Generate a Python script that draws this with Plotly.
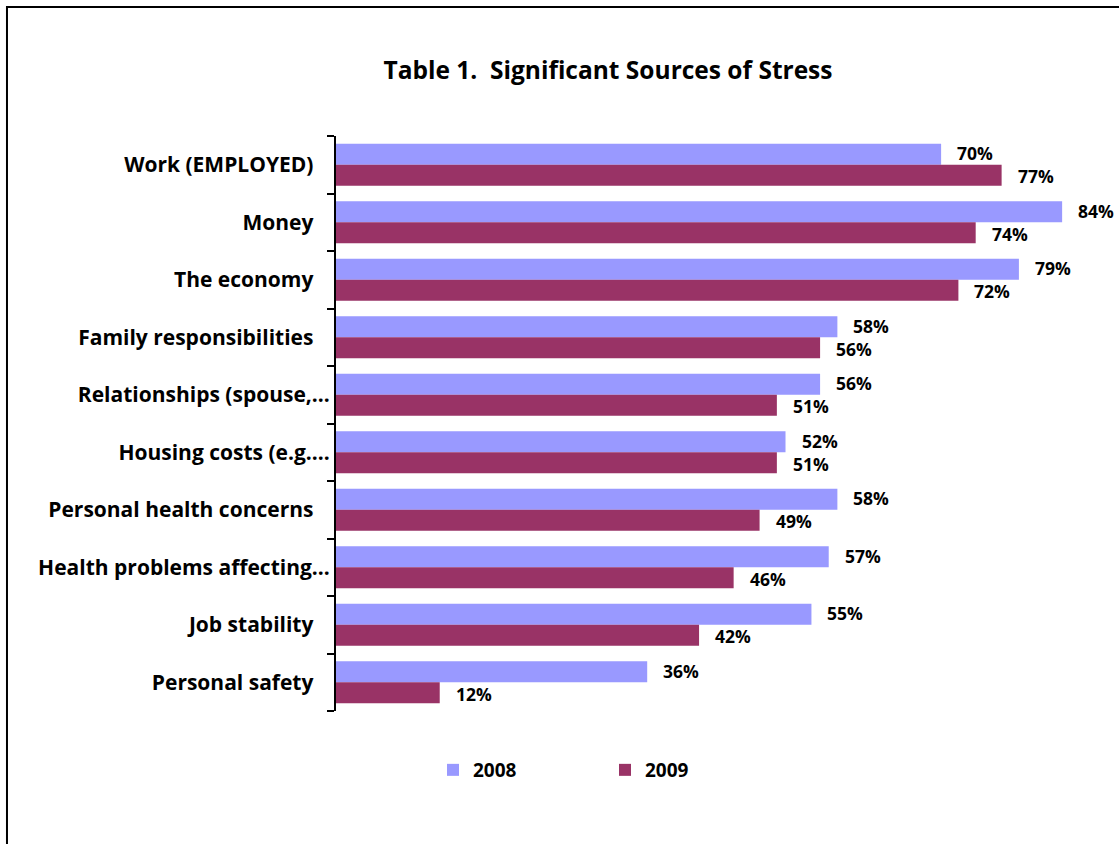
import plotly.graph_objects as go

# Survey data: share of respondents naming each item a significant source of stress
categories = [
    "Work (EMPLOYED)",
    "Money",
    "The economy",
    "Family responsibilities",
    "Relationships (spouse,...",
    "Housing costs (e.g....",
    "Personal health concerns",
    "Health problems affecting...",
    "Job stability",
    "Personal safety",
]
shortened = [False, False, False, False, True, True, False, True, False, False]
pct_2008 = [70, 84, 79, 58, 56, 52, 58, 57, 55, 36]
pct_2009 = [77, 74, 72, 56, 51, 51, 49, 46, 42, 12]
series = [("2008", pct_2008, "#9999FF"), ("2009", pct_2009, "#993366")]

FONT = "Open Sans"
positions = list(range(len(categories)))
tick_text = [c if s else c + "\u00a0" * 3 for c, s in zip(categories, shortened)]

fig = go.Figure()
for name, vals, color in series:
    fig.add_trace(go.Bar(
        name=name, y=positions, x=vals, orientation="h",
        marker=dict(color=color, line=dict(width=0)),
    ))

# value labels beside each bar
half = (1 - 0.27) / 4
for k, (name, vals, color) in enumerate(series):
    off = -half if k == 0 else half
    for p, v in zip(positions, vals):
        fig.add_annotation(
            x=v, y=p + off, xref="x", yref="y", text=f"{v}%",
            showarrow=False, xanchor="left", yanchor="middle", xshift=15,
            yshift=1 if k == 0 else -1, borderpad=0,
            font=dict(family=FONT, size=17.5, color="black", weight="bold"),
        )

# outer frame
fig.add_shape(type="rect", xref="paper", yref="paper",
              x0=-0.4229, x1=1.2, y0=-0.4, y1=1.2243,
              line=dict(color="black", width=2), fillcolor="rgba(0,0,0,0)")

fig.update_layout(
    width=1119, height=844,
    paper_bgcolor="white", plot_bgcolor="white",
    margin=dict(l=336, r=5, t=136, b=133),
    barmode="group", bargap=0.27, bargroupgap=0,
    showlegend=True,
    title=dict(text="Table 1.\u00a0\u00a0Significant Sources of Stress",
               x=608 / 1119, xanchor="center", y=1 - 70 / 844, yanchor="middle",
               font=dict(family=FONT, size=24.5, color="black", weight="bold")),
    legend=dict(orientation="h", xref="container", yref="container",
                x=433 / 1119, xanchor="left", y=1 - 770 / 844, yanchor="middle",
                entrywidth=127, entrywidthmode="pixels",
                font=dict(family=FONT, size=19, color="black", weight="bold"),
                itemclick=False),
    xaxis=dict(range=[0, 90], visible=False, fixedrange=True),
    yaxis=dict(
        range=[len(categories) - 0.5, -0.5],
        tickmode="array", tickvals=positions, ticktext=tick_text,
        ticks="", showgrid=False, zeroline=False,
        showline=True, linecolor="black", linewidth=2,
        ticklabelstandoff=0,
        tickfont=dict(family=FONT, size=21, color="black", weight="bold"),
        minor=dict(tickmode="array",
                   tickvals=[p - 0.5 for p in positions] + [positions[-1] + 0.5],
                   ticks="outside", ticklen=7, tickwidth=2, tickcolor="black",
                   showgrid=False),
        fixedrange=True,
    ),
)

fig.write_html("out.html")
